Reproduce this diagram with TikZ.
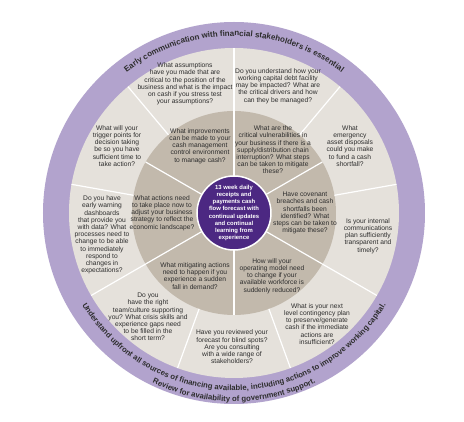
\documentclass[tikz,border=0pt]{standalone}
\usepackage{fontspec}
\setmainfont{Liberation Sans}
\usetikzlibrary{decorations.text}

\definecolor{bandlilac}{RGB}{178,163,205}
\definecolor{outerstone}{RGB}{229,225,219}
\definecolor{innerstone}{RGB}{194,185,172}
\definecolor{hubpurple}{RGB}{76,40,130}
\definecolor{asktext}{RGB}{45,45,45}

\tikzset{
  ask/.style={align=center, text=asktext, inner sep=0pt, font=\fontsize{6.7}{7.2}\selectfont},
  hubtext/.style={align=center, text=white, inner sep=0pt, font=\bfseries\fontsize{5.9}{7.2}\selectfont},
  spoke/.style={white, line width=1.2pt},
}

\begin{document}
\begin{tikzpicture}[x=1pt,y=1pt]
  \useasboundingbox (-234,-209) rectangle (230,213);
  \fill[white] (-234,-209) rectangle (230,213);

  % rings of the wheel
  \fill[bandlilac] (0,0) circle[radius=191];
  \fill[outerstone] (0,0) circle[radius=165];
  \fill[innerstone] (0,0) circle[radius=102];

  \foreach \a in {90,50,...,-230}
    \draw[spoke] (\a:102) -- (\a:165);
  \foreach \a in {90,30,...,-210}
    \draw[spoke] (\a:37) -- (\a:102);

  \fill[hubpurple, draw=white, line width=1.5pt] (0,0) circle[radius=37];

  % texts on the band
  \path[decorate, decoration={text along path, text align=center, text color=asktext,
      text={|\bfseries\fontsize{8}{8}\selectfont|Early communication with financial stakeholders is essential}}]
    (135:177) arc[start angle=135, end angle=45, radius=177];
  \path[decorate, decoration={text along path, text align=center, text color=asktext,
      text={|\bfseries\fontsize{7.7}{7.7}\selectfont|Understand upfront all sources of financing available, including actions to improve working capital.}}]
    (-157:177.5) arc[start angle=-157, end angle=-23, radius=177.5];
  \path[decorate, decoration={text along path, text align=center, text color=asktext,
      text={|\bfseries\fontsize{7.7}{7.7}\selectfont|Review for availability of government support.}}]
    (-130:188.5) arc[start angle=-130, end angle=-50, radius=188.5];

  % hub
  \node[hubtext] (hub) at (0,0) {13 week daily\\receipts and\\payments cash\\flow forecast with\\continual updates\\and continual\\learning from\\experience};

  % inner ring
  \node[ask] (improve) at (-34,67) {What improvements\\can be made to your\\cash management\\control environment\\to manage cash?};
  \node[ask] (vulner) at (39,63) {What are the\\critical vulnerabilities in\\your business if there is a\\supply/distribution chain\\interruption? What steps\\can be taken to mitigate\\these?};
  \node[ask] (covenant) at (71,0) {Have covenant\\breaches and cash\\shortfalls been\\identified? What\\steps can be taken to\\mitigate these?};
  \node[ask] (workforce) at (38,-63) {How will your\\operating model need\\to change if your\\available workforce is\\suddenly reduced?};
  \node[ask] (demand) at (-39,-63) {What mitigating actions\\need to happen if you\\experience a sudden\\fall in demand?};
  \node[ask] (strategy) at (-72,0) {What actions need\\to take place now to\\adjust your business\\strategy to reflect the\\economic landscape?};

  % outer ring
  \node[ask] (assume) at (-49,129) {What assumptions\\have you made that are\\critical to the position of the\\business and what is the impact\\on cash if you stress test\\your assumptions?};
  \node[ask] (debt) at (44,127) {Do you understand how your\\working capital debt facility\\may be impacted? What are\\the critical drivers and how\\can they be managed?};
  \node[ask] (disposal) at (116,67) {What\\emergency\\asset disposals\\could you make\\to fund a cash\\shortfall?};
  \node[ask] (comms) at (134,-23) {Is your internal\\communications\\plan sufficiently\\transparent and\\timely?};
  \node[ask] (contingency) at (83,-111) {What is your next\\level contingency plan\\to preserve/generate\\cash if the immediate\\actions are\\insufficient?};
  \node[ask] (blindspot) at (-2,-134) {Have you reviewed your\\forecast for blind spots?\\Are you consulting\\with a wide range of\\stakeholders?};
  \node[ask] (team) at (-86,-104) {Do you\\have the right\\team/culture supporting\\you? What crisis skills and\\experience gaps need\\to be filled in the\\short term?};
  \node[ask] (warning) at (-132,-22) {Do you have\\early warning\\dashboards\\that provide you\\with data? What\\processes need to\\change to be able\\to immediately\\respond to\\changes in\\expectations?};
  \node[ask] (trigger) at (-117,67) {What will your\\trigger points for\\decision taking\\be so you have\\sufficient time to\\take action?};
\end{tikzpicture}
\end{document}
